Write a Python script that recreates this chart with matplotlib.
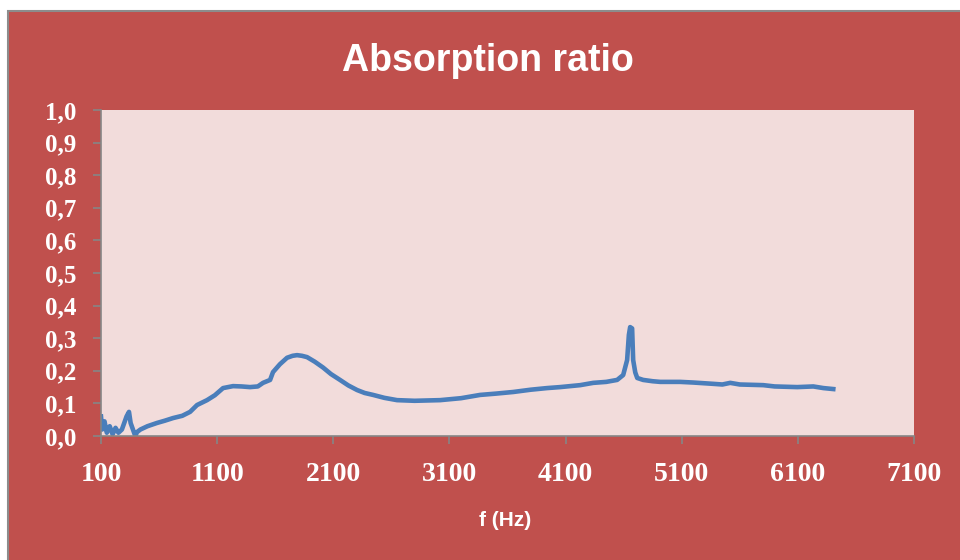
import matplotlib.pyplot as plt
from matplotlib.patches import Rectangle

# data
freq = [100, 110, 130, 150, 175, 200, 225, 250, 280, 300, 320, 341, 355, 375, 395, 410, 440,
        500, 582, 650, 720, 800, 867, 927, 1013, 1080, 1151, 1237, 1310, 1383, 1450, 1495, 1556,
        1581, 1640, 1702, 1750, 1788, 1830, 1874, 1940, 2012, 2080, 2158, 2230, 2305, 2370,
        2443, 2540, 2649, 2800, 3020, 3200, 3364, 3500, 3649, 3800, 3941, 4053, 4226, 4338,
        4450, 4544, 4596, 4630, 4645, 4656, 4673, 4682, 4700, 4717, 4768, 4850, 4915, 5000,
        5087, 5200, 5371, 5450, 5518, 5600, 5700, 5802, 5900, 6095, 6233, 6320, 6405]
absorption = [0.06, 0.02, 0.045, 0.01, 0.03, 0.005, 0.025, 0.01, 0.02, 0.04, 0.06, 0.074, 0.04, 0.02, 0.0, 0.012, 0.02,
              0.03, 0.04, 0.047, 0.055, 0.062, 0.074, 0.095, 0.11, 0.125, 0.147, 0.153, 0.152, 0.150, 0.152, 0.163, 0.172,
              0.196, 0.22, 0.24, 0.246, 0.248, 0.246, 0.242, 0.228, 0.21, 0.19, 0.172, 0.155, 0.141, 0.132,
              0.126, 0.117, 0.11, 0.108, 0.11, 0.116, 0.126, 0.13, 0.135, 0.142, 0.147, 0.150, 0.156, 0.163,
              0.166, 0.172, 0.187, 0.233, 0.31, 0.334, 0.33, 0.233, 0.195, 0.178, 0.172, 0.168, 0.166, 0.166,
              0.166, 0.164, 0.16, 0.158, 0.163, 0.158, 0.157, 0.156, 0.152, 0.150, 0.152, 0.147, 0.144]

xticks = [100, 1100, 2100, 3100, 4100, 5100, 6100, 7100]
yticks = [0.0, 0.1, 0.2, 0.3, 0.4, 0.5, 0.6, 0.7, 0.8, 0.9, 1.0]
ytick_labels = ['0,0', '0,1', '0,2', '0,3', '0,4', '0,5', '0,6', '0,7', '0,8', '0,9', '1,0']

red = '#C0504D'
fig = plt.figure(figsize=(9.6, 5.6), dpi=100, facecolor='white')
# red chart area with grey frame (kept behind the axes)
fig.patches.append(Rectangle((8/960, -0.01), 1, 1 - 11/560 + 0.01, transform=fig.transFigure,
                             facecolor=red, edgecolor='#8C8C8C', linewidth=1.5, zorder=-10))

ax = fig.add_axes([101/960, 1 - 436/560, (914 - 101)/960, (436 - 110)/560])
ax.set_facecolor('#F2DCDB')
ax.plot(freq, absorption, color='#4A7EBB', linewidth=3.3, solid_joinstyle='round')

ax.set_xlim(100, 7100)
ax.set_ylim(0, 1.0)
ax.set_xticks(xticks)
ax.set_yticks(yticks)
ax.set_yticklabels(ytick_labels)
for s in ['top', 'right']:
    ax.spines[s].set_visible(False)
for s in ['left', 'bottom']:
    ax.spines[s].set_color('#868686')
    ax.spines[s].set_linewidth(1.2)
ax.tick_params(axis='both', colors='#868686', length=6, width=1.2, direction='out')
ax.tick_params(axis='x', pad=13)
ax.tick_params(axis='y', pad=12)
for lab in ax.get_xticklabels():
    lab.set_fontfamily('Liberation Serif')
    lab.set_fontweight('bold')
    lab.set_fontsize(20)
    lab.set_color('white')
for lab in ax.get_yticklabels():
    lab.set_fontfamily('Liberation Serif')
    lab.set_fontweight('bold')
    lab.set_fontsize(18)
    lab.set_color('white')

fig.text(488/960, 1 - 61/560, 'Absorption ratio', ha='center', va='center', color='white',
         fontsize=27, fontweight='bold', family=['Liberation Sans', 'DejaVu Sans'])
fig.text(505/960, 1 - 521/560, 'f (Hz)', ha='center', va='center', color='white',
         fontsize=15, fontweight='bold', family=['Liberation Sans Narrow', 'Liberation Sans', 'DejaVu Sans'])

plt.savefig('out.png', dpi=100, facecolor=fig.get_facecolor())
plt.close()
